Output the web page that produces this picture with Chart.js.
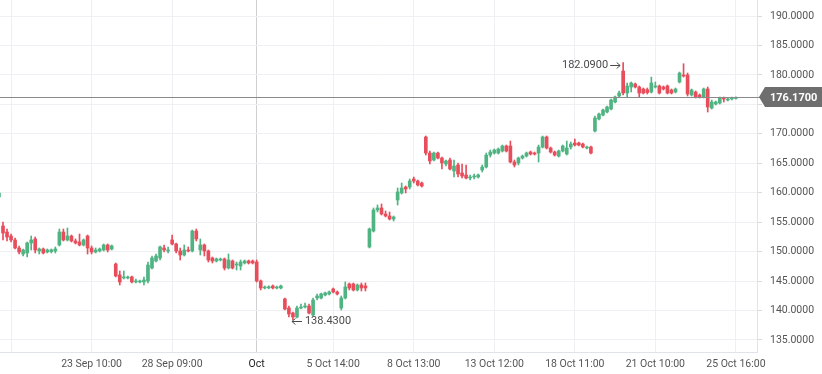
<!DOCTYPE html>
<html>
<head>
<meta charset="utf-8">
<script src="https://cdn.jsdelivr.net/npm/chart.js@4.4.0/dist/chart.umd.min.js"></script>
<style>
    html, body { margin: 0; padding: 0; background: #ffffff; }
    #grafica { display: block; }
</style>
</head>
<body>
<canvas id="grafica"></canvas>
<script>
// Datos de las velas (una por periodo)
const opens = [
    159.27, 154.35, 153.33, 152.65, 151.98, 150.62, 149.60, 149.77, 151.47, 152.15,
    150.11, 150.45, 149.94, 150.00, 150.11, 151.13, 153.33, 151.98, 152.65, 151.81,
    151.64, 151.13, 152.65, 150.62, 149.94, 150.11, 150.28, 151.13, 150.45, 147.90,
    146.04, 145.53, 145.53, 145.70, 144.85, 144.85, 144.85, 145.02, 147.22, 148.41,
    148.92, 150.62, 150.11, 151.98, 151.30, 150.11, 149.43, 150.28, 150.11, 153.50,
    150.28, 151.13, 150.11, 148.92, 148.41, 148.58, 148.75, 147.22, 148.41, 147.73,
    147.56, 148.07, 148.41, 148.41, 148.24, 145.02, 143.83, 143.85, 144.17, 143.83,
    143.83, 141.96, 140.43, 139.58, 138.90, 140.43, 140.60, 140.77, 139.24, 142.13,
    142.13, 142.64, 142.81, 143.66, 143.15, 140.43, 142.13, 144.51, 144.51, 143.49,
    144.34, 144.17, 150.79, 153.50, 157.07, 157.41, 156.39, 156.05, 155.54, 158.77,
    159.96, 160.97, 160.97, 162.33, 161.99, 161.65, 169.46, 166.74, 165.56, 166.74,
    165.89, 164.88, 165.56, 163.69, 164.71, 163.35, 163.01, 162.50, 162.67, 162.67,
    163.86, 164.37, 166.40, 166.74, 166.74, 167.08, 167.93, 167.93, 165.22, 165.05,
    165.89, 166.23, 166.91, 166.74, 166.74, 167.76, 169.46, 167.59, 166.91, 166.23,
    167.08, 166.57, 167.76, 168.44, 168.44, 168.27, 167.59, 167.76, 170.48, 172.52,
    173.19, 173.70, 174.21, 175.40, 176.42, 180.66, 176.93, 177.95, 178.46, 177.95,
    177.61, 177.50, 177.10, 177.95, 178.12, 177.95, 178.12, 177.44, 177.10, 178.80,
    179.99, 179.99, 176.59, 177.10, 176.59, 176.25, 177.61, 174.38, 175.06, 175.23,
    176.08, 175.74, 175.91, 176.00
];
const highs = [
    160.13, 155.03, 153.84, 152.99, 152.31, 150.96, 150.45, 151.64, 152.65, 152.48,
    150.62, 150.62, 150.45, 150.45, 150.79, 153.84, 153.84, 154.01, 152.82, 152.15,
    152.99, 152.15, 152.82, 150.96, 150.62, 150.62, 151.30, 151.30, 151.13, 148.07,
    146.71, 146.71, 145.87, 145.87, 145.36, 145.19, 145.70, 148.24, 149.26, 149.60,
    150.96, 151.13, 150.79, 152.82, 151.47, 150.62, 151.13, 150.79, 153.67, 153.84,
    152.15, 151.30, 150.28, 149.09, 148.92, 148.92, 148.92, 149.60, 148.58, 148.24,
    148.58, 148.58, 148.58, 148.58, 148.58, 145.19, 144.17, 144.20, 144.34, 144.17,
    144.34, 142.13, 140.77, 139.75, 140.77, 141.11, 141.28, 141.11, 142.13, 142.81,
    142.98, 143.15, 143.32, 143.83, 143.32, 142.47, 144.85, 144.68, 144.68, 144.51,
    144.68, 144.68, 154.01, 157.41, 157.92, 158.09, 156.90, 156.73, 156.05, 160.80,
    161.65, 161.14, 162.33, 162.67, 162.16, 161.82, 169.63, 167.08, 166.91, 166.91,
    166.06, 165.56, 165.89, 165.56, 165.05, 164.88, 164.71, 163.01, 163.18, 163.18,
    164.71, 166.74, 167.25, 167.42, 167.59, 168.10, 168.10, 168.78, 165.56, 166.06,
    166.40, 166.91, 167.08, 166.91, 168.10, 169.63, 169.63, 167.76, 167.08, 167.25,
    168.10, 168.78, 168.61, 169.12, 168.61, 168.44, 167.93, 167.93, 173.03, 173.53,
    174.21, 174.72, 175.91, 176.42, 177.27, 182.09, 178.63, 178.80, 178.63, 178.12,
    177.78, 177.78, 179.64, 178.80, 178.29, 178.12, 178.29, 177.61, 177.78, 180.49,
    181.90, 180.32, 177.61, 177.27, 176.76, 177.78, 177.95, 175.74, 175.57, 176.25,
    176.25, 176.08, 176.25, 176.30
];
const lows = [
    159.10, 151.98, 151.81, 151.64, 150.45, 149.60, 149.26, 149.09, 150.28, 149.77,
    149.60, 149.60, 149.77, 149.77, 149.77, 150.96, 151.81, 151.81, 151.64, 151.30,
    150.96, 150.96, 149.60, 149.60, 149.77, 149.94, 150.11, 149.94, 150.28, 145.70,
    144.34, 145.36, 145.36, 144.68, 144.68, 144.68, 144.34, 144.68, 147.05, 148.24,
    148.58, 149.94, 149.77, 151.13, 149.77, 148.58, 149.26, 149.94, 149.94, 151.81,
    149.43, 149.26, 148.24, 148.07, 148.24, 148.41, 146.88, 147.05, 147.05, 146.88,
    146.88, 147.90, 147.90, 147.90, 144.85, 143.49, 143.66, 143.70, 143.66, 143.66,
    143.66, 140.09, 138.90, 138.43, 138.73, 140.26, 140.43, 139.41, 139.07, 141.79,
    141.96, 142.47, 142.64, 142.98, 142.64, 140.09, 141.96, 143.49, 143.32, 143.32,
    143.32, 143.32, 150.62, 153.33, 156.73, 156.22, 155.88, 155.37, 155.20, 157.92,
    159.78, 159.96, 160.63, 161.65, 161.14, 160.97, 166.40, 164.88, 165.39, 165.72,
    164.03, 164.54, 163.86, 162.67, 162.67, 162.50, 162.33, 162.16, 162.33, 162.50,
    163.52, 164.20, 166.06, 166.57, 166.57, 166.91, 166.91, 165.05, 164.37, 164.71,
    165.72, 166.06, 166.40, 166.40, 165.22, 167.59, 167.42, 166.74, 166.23, 166.06,
    166.91, 166.40, 167.42, 167.93, 167.93, 167.59, 167.42, 166.57, 170.31, 172.35,
    173.03, 173.53, 174.04, 175.23, 176.25, 176.59, 176.25, 177.10, 177.78, 176.25,
    176.76, 176.76, 176.93, 177.78, 176.76, 177.44, 176.76, 176.76, 176.93, 178.63,
    179.64, 176.42, 176.42, 176.08, 176.08, 176.08, 173.70, 174.21, 174.89, 175.06,
    175.40, 175.57, 175.74, 175.90
];
const closes = [
    159.96, 153.16, 152.48, 151.98, 150.62, 149.94, 150.28, 151.47, 151.98, 150.28,
    150.45, 149.77, 150.28, 150.30, 150.45, 153.33, 151.98, 152.65, 151.81, 151.47,
    151.13, 151.98, 150.62, 149.94, 150.28, 150.45, 151.13, 150.28, 150.96, 145.87,
    144.85, 145.70, 145.70, 144.85, 145.02, 145.02, 145.19, 147.73, 148.92, 149.26,
    150.79, 150.28, 150.28, 151.30, 150.11, 149.43, 150.28, 150.11, 153.50, 152.15,
    151.13, 150.11, 148.58, 148.41, 148.75, 148.75, 147.22, 148.58, 147.22, 147.90,
    148.24, 148.41, 148.07, 148.07, 145.02, 143.83, 144.00, 144.02, 143.83, 144.00,
    144.17, 140.26, 139.41, 138.90, 140.43, 140.60, 140.77, 139.58, 141.79, 142.47,
    142.81, 142.98, 143.15, 143.15, 142.81, 142.13, 144.00, 143.83, 143.49, 144.34,
    143.83, 143.83, 153.84, 157.07, 157.41, 156.39, 156.05, 155.54, 155.88, 160.13,
    160.80, 160.63, 161.99, 161.99, 161.31, 161.14, 166.74, 165.39, 166.74, 165.89,
    165.05, 165.39, 164.03, 164.54, 163.18, 162.84, 162.50, 162.67, 162.84, 163.01,
    164.37, 166.40, 166.91, 167.25, 167.42, 167.93, 167.08, 165.22, 164.71, 165.89,
    166.23, 166.74, 166.57, 166.57, 167.76, 169.46, 167.59, 166.91, 166.40, 167.08,
    167.93, 167.59, 168.27, 168.10, 168.10, 167.76, 167.76, 166.74, 172.69, 173.36,
    174.04, 174.55, 175.74, 176.25, 176.93, 176.93, 178.12, 178.63, 177.95, 176.93,
    176.93, 177.00, 178.63, 178.12, 176.93, 177.61, 176.93, 176.93, 177.61, 180.32,
    179.81, 176.76, 177.44, 176.25, 176.25, 177.61, 174.55, 175.40, 175.40, 176.08,
    175.91, 175.91, 176.08, 176.17
];

// Marcas del eje X (posición de la vela y texto)
const xTickIndex = [3, 23, 43, 64, 83, 103, 123, 143, 163, 183];
const xTickText = ["", "23 Sep 10:00", "28 Sep 09:00", "Oct", "5 Oct 14:00", "8 Oct 13:00", "13 Oct 12:00", "18 Oct 11:00", "21 Oct 10:00", "25 Oct 16:00"];

// Marcas del eje Y
const yTicks = [135, 140, 145, 150, 155, 160, 165, 170, 175, 180, 185, 190];

document.addEventListener("DOMContentLoaded", function () {
    const canvas = document.getElementById("grafica");
    canvas.width = 822;
    canvas.height = 374;

    const verde = "#4fb382";
    const rojo = "#e84d5b";
    const gris = "#555555";
    const fuente = "Roboto, 'Noto Sans', sans-serif";

    const idx = opens.map((_, i) => i);
    const colores = idx.map(i => closes[i] >= opens[i] ? verde : rojo);

    // Máximo, mínimo y último precio
    const iMax = highs.indexOf(Math.max(...highs));
    const iMin = lows.indexOf(Math.min(...lows));
    const ultimo = closes[closes.length - 1];

    // Flecha horizontal sencilla
    function flecha(ctx, x1, x2, y) {
        const dir = x2 > x1 ? 1 : -1;
        ctx.beginPath();
        ctx.moveTo(x1, y);
        ctx.lineTo(x2, y);
        ctx.moveTo(x2 - dir * 3.5, y - 3);
        ctx.lineTo(x2, y);
        ctx.lineTo(x2 - dir * 3.5, y + 3);
        ctx.stroke();
    }

    const anotaciones = {
        id: "anotaciones",
        afterDatasetsDraw(chart) {
            const ctx = chart.ctx;
            const x = chart.scales.x;
            const y = chart.scales.y;
            const area = chart.chartArea;

            // Línea del último precio
            const yp = Math.round(y.getPixelForValue(ultimo)) + 0.5;
            ctx.save();
            ctx.strokeStyle = "#8a8a8a";
            ctx.lineWidth = 1;
            ctx.beginPath();
            ctx.moveTo(area.left, yp);
            ctx.lineTo(area.right + 3, yp);
            ctx.stroke();

            // Texto del máximo y del mínimo
            ctx.font = "11px " + fuente;
            ctx.fillStyle = "#4a4a4a";
            ctx.strokeStyle = "#4a4a4a";
            ctx.textBaseline = "middle";

            const xh = x.getPixelForValue(iMax);
            const yh = Math.round(y.getPixelForValue(highs[iMax])) + 2.5;
            flecha(ctx, xh - 13, xh - 3, yh);
            ctx.textAlign = "right";
            ctx.fillText(highs[iMax].toFixed(4), xh - 15, yh);

            const xl = x.getPixelForValue(iMin);
            const yl = Math.round(y.getPixelForValue(lows[iMin])) + 1.5;
            flecha(ctx, xl + 9, xl - 1, yl);
            ctx.textAlign = "left";
            ctx.fillText(lows[iMin].toFixed(4), xl + 12, yl);
            ctx.restore();
        },
        afterDraw(chart) {
            const ctx = chart.ctx;
            const y = chart.scales.y;
            const area = chart.chartArea;
            const yp = Math.round(y.getPixelForValue(ultimo));
            const x0 = area.right + 2;

            // Etiqueta del último precio
            ctx.save();
            ctx.fillStyle = "#6e6e6e";
            ctx.beginPath();
            ctx.moveTo(x0, yp);
            ctx.lineTo(x0 + 6, yp - 10);
            ctx.lineTo(chart.width, yp - 10);
            ctx.lineTo(chart.width, yp + 10);
            ctx.lineTo(x0 + 6, yp + 10);
            ctx.closePath();
            ctx.fill();
            ctx.fillStyle = "#ffffff";
            ctx.font = "bold 11px " + fuente;
            ctx.textBaseline = "middle";
            ctx.textAlign = "left";
            ctx.fillText(ultimo.toFixed(4), area.right + 13, yp + 1);
            ctx.restore();
        }
    };

    new Chart(canvas, {
        type: "bar",
        data: {
            datasets: [
                {
                    label: "Mecha",
                    data: idx.map(i => ({ x: i, y: [lows[i], highs[i]] })),
                    backgroundColor: colores,
                    barThickness: 1,
                    grouped: false,
                    order: 2
                },
                {
                    label: "Cuerpo",
                    data: idx.map(i => ({ x: i, y: [opens[i], closes[i]] })),
                    backgroundColor: colores,
                    barThickness: 3,
                    minBarLength: 1,
                    grouped: false,
                    order: 1
                }
            ]
        },
        options: {
            responsive: false,
            animation: false,
            layout: { padding: 0 },
            plugins: {
                legend: { display: false },
                tooltip: { enabled: false }
            },
            scales: {
                x: {
                    type: "linear",
                    min: 0.255,
                    max: 188.24,
                    offset: false,
                    afterBuildTicks: axis => {
                        axis.ticks = xTickIndex.map(v => ({ value: v }));
                    },
                    afterFit: scale => {
                        scale.height = 22;
                        scale.paddingLeft = 0;
                        scale.paddingRight = 0;
                    },
                    ticks: {
                        autoSkip: false,
                        maxRotation: 0,
                        padding: 6,
                        font: { family: fuente, size: 10.5 },
                        color: ctx => xTickText[xTickIndex.indexOf(ctx.tick.value)] === "Oct" ? "#222222" : gris,
                        callback: value => xTickText[xTickIndex.indexOf(value)]
                    },
                    grid: {
                        offset: false,
                        drawTicks: false,
                        color: ctx => ctx.tick && ctx.tick.value === 64 ? "#d0d0d0" : "#eef0f3"
                    },
                    border: { display: true, color: "#e0e3eb" }
                },
                y: {
                    position: "right",
                    min: 132.96,
                    max: 192.72,
                    afterBuildTicks: axis => {
                        axis.ticks = yTicks.map(v => ({ value: v }));
                    },
                    afterFit: scale => {
                        scale.width = 65;
                        scale.paddingTop = 0;
                        scale.paddingBottom = 0;
                    },
                    ticks: {
                        padding: 8,
                        font: { family: fuente, size: 10.5 },
                        color: gris,
                        callback: value => value.toFixed(4)
                    },
                    grid: {
                        color: "#eef0f3",
                        tickLength: 5,
                        tickColor: "#d8dbe2"
                    },
                    border: { display: true, color: "#e0e3eb" }
                }
            }
        },
        plugins: [anotaciones]
    });
});
</script>
</body>
</html>
